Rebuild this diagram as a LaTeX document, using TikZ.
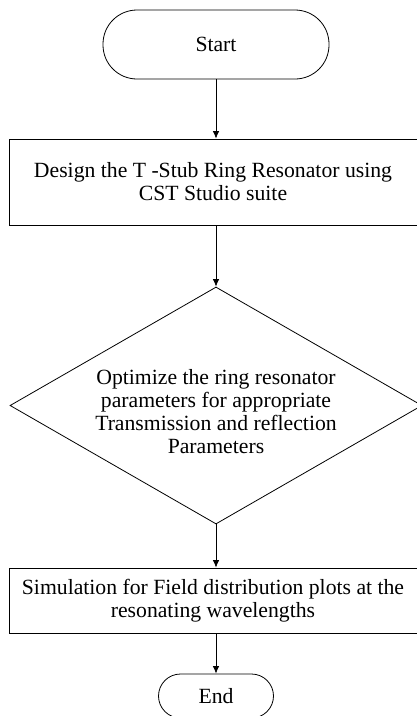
\documentclass[tikz,border=0pt]{standalone}
\usepackage{fontspec}
\setmainfont{Liberation Serif}
\usepackage{tikz}
\usetikzlibrary{shapes.geometric, arrows.meta}

\begin{document}
\begin{tikzpicture}[
			x=1pt, y=1pt,
			every node/.style={font=\fontsize{21.7}{23}\selectfont, align=center, line width=0.8pt},
			terminal/.style={rectangle, draw, rounded corners=22pt, inner sep=0pt},
			process/.style={rectangle, draw, inner sep=0pt},
			decision/.style={diamond, draw, aspect=1.7, inner sep=0pt},
			arrow/.style={line width=0.8pt, -{Latex[length=7.5pt, width=6.5pt]}},
			]
			\useasboundingbox (0,0) rectangle (417,-716);
			%Nodes
				% start and end
				\node[terminal, rounded corners=34pt, minimum width=226pt, minimum height=69pt]	(start)		at (216,-44.5)	{Start};
				\node[terminal, minimum width=115pt, minimum height=44pt]	(end)		at (216,-696)	{End};
				% steps
				\node[process, minimum width=408pt, minimum height=86pt]	(design)	at (213,-182)	{Design the T -Stub Ring Resonator using\\CST Studio suite};
				\node[decision, minimum width=412pt, minimum height=237pt]	(optimize)	at (216,-405.5)	{};
				\node[]	(optimizetext)	at ([yshift=-6pt]optimize.center)	{Optimize the ring resonator\\parameters for appropriate\\Transmission and reflection\\Parameters};
				\node[process, minimum width=408pt, minimum height=65pt]	(simulate)	at (213,-600.5)	{Simulation for Field distribution plots at the\\resonating wavelengths};

			%Lines
				\draw[arrow] (start.south) -- (start.south |- design.north);
				\draw[arrow] (design.south -| optimize.north) -- (optimize.north);
				\draw[arrow] (optimize.south) -- (optimize.south |- simulate.north);
				\draw[arrow] (simulate.south -| end.north) -- (end.north);
		\end{tikzpicture}
\end{document}
